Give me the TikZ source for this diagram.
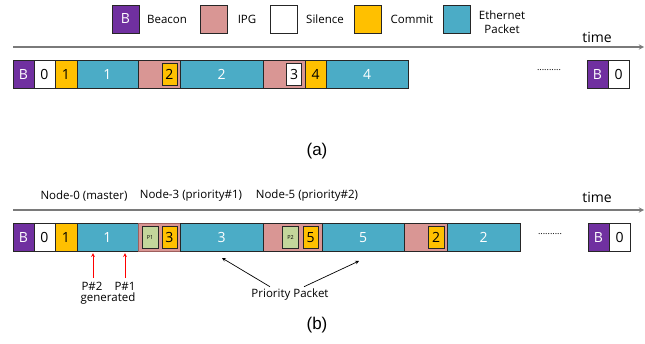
\documentclass[tikz,border=0pt]{standalone}
\usepackage{fontspec}
\setmainfont{Open Sans}
\newfontfamily\capfont{Liberation Sans}
\usetikzlibrary{arrows}
\definecolor{beaconc}{HTML}{7030A0}
\definecolor{ipgc}{HTML}{D99694}
\definecolor{ipgd}{HTML}{9E5F5D}
\definecolor{commitc}{HTML}{FFC000}
\definecolor{etherc}{HTML}{4BACC6}
\definecolor{prioc}{HTML}{C3D69B}
\definecolor{timec}{HTML}{7A7A7A}
\tikzset{
  seg/.style={draw=black!85, line width=0.8pt, minimum height=28, inner sep=0, outer sep=0,
    anchor=west, font=\fontsize{14}{14}\selectfont},
  bcn/.style={seg, fill=beaconc, text=white, minimum width=21},
  sil/.style={seg, fill=white, minimum width=21},
  cmt/.style={seg, fill=commitc, minimum width=22},
  ipg/.style={seg, fill=ipgc},
  eth/.style={seg, fill=etherc, text=white},
  inbox/.style={seg, anchor=center, minimum width=15, minimum height=22},
  key/.style={draw=black!85, line width=0.8pt, minimum width=27, minimum height=28, inner sep=0,
    font=\fontsize{14}{14}\selectfont},
  lbl/.style={font=\fontsize{11.5}{13}\selectfont},
  timeline/.style={draw=timec, line width=1.3pt, -stealth},
  genarrow/.style={draw=red, line width=0.8pt, -stealth},
  ptr/.style={draw=black, line width=0.7pt, -stealth}
}
\begin{document}
\begin{tikzpicture}[x=1pt,y=-1pt]
\useasboundingbox (0,0) rectangle (645,343);

\node[key, fill=beaconc, text=white] (kB) at (125.5,19) {B};
\node[lbl] (kBt) at (167,19) {Beacon};
\node[key, fill=ipgc] (kI) at (214,19) {};
\node[lbl] (kIt) at (247,19) {IPG};
\node[key, fill=white] (kS) at (284,19) {};
\node[lbl] (kSt) at (325,19) {Silence};
\node[key, fill=commitc] (kC) at (368,19) {};
\node[lbl] (kCt) at (412,19) {Commit};
\node[key, fill=etherc] (kE) at (457,19) {};
\node[lbl, align=center, font=\fontsize{11.5}{14}\selectfont] (kEt) at (502,22) {Ethernet\\Packet};

\coordinate (ta0) at (13,47);
\coordinate (ta1) at (644,47);
\draw[timeline] (ta0) -- (ta1);
\node[font=\fontsize{14}{14}\selectfont] (timea) at (597,37) {time};

\node[bcn] (aB) at (13,74.5) {B};
\node[sil] (a0) at (34,74.5) {0};
\node[cmt] (ac1) at (55,74.5) {1};
\node[eth, minimum width=61] (ap1) at (77,74.5) {1};
\node[ipg, minimum width=42] (ag2) at (138,74.5) {};
\node[inbox, fill=commitc] (ac2) at (169.5,74.5) {2};
\node[eth, minimum width=83] (ap2) at (180,74.5) {2};
\node[ipg, minimum width=42] (ag3) at (263,74.5) {};
\node[inbox, fill=white] (as3) at (294,74.5) {3};
\node[cmt, minimum width=21] (ac4) at (305,74.5) {4};
\node[eth, minimum width=82] (ap4) at (326,74.5) {4};
\node[font=\fontsize{9}{9}\selectfont] (adots) at (549,70) {..........};
\node[bcn] (aB2) at (587,74.5) {B};
\node[sil] (a02) at (608,74.5) {0};

\node[font=\capfont\fontsize{17}{17}\selectfont] (capa) at (317,151) {(a)};

\node[lbl] (n0) at (84,196) {Node-0 (master)};
\node[lbl] (n3) at (191,196) {Node-3 (priority\#1)};
\node[lbl] (n5) at (307,196) {Node-5 (priority\#2)};
\coordinate (tb0) at (13,210);
\coordinate (tb1) at (644,210);
\draw[timeline] (tb0) -- (tb1);
\node[font=\fontsize{14}{14}\selectfont] (timeb) at (597,197) {time};

\node[bcn] (bB) at (13,237.5) {B};
\node[sil] (b0) at (34,237.5) {0};
\node[cmt] (bc1) at (55,237.5) {1};
\node[eth, minimum width=61] (bp1) at (77,237.5) {1};
\node[ipg, draw=ipgd, minimum width=42] (bg3) at (138,237.5) {};
\node[inbox, fill=prioc, minimum width=16, font=\fontsize{5.5}{5.5}\selectfont] (bq1) at (150,237.5) {P1};
\node[inbox, fill=commitc] (bc3) at (169.5,237.5) {3};
\node[eth, minimum width=83] (bp3) at (180,237.5) {3};
\node[ipg, minimum width=59] (bg5) at (263,237.5) {};
\node[inbox, fill=prioc, minimum width=16, font=\fontsize{5.5}{5.5}\selectfont] (bq2) at (290.5,237.5) {P2};
\node[inbox, fill=commitc] (bc5) at (310.5,237.5) {5};
\node[eth, minimum width=82] (bp5) at (322,237.5) {5};
\node[ipg, minimum width=43] (bg2) at (404,237.5) {};
\node[inbox, fill=commitc, minimum width=16] (bc2) at (436,237.5) {2};
\node[eth, minimum width=73] (bp2) at (447,237.5) {2};
\node[font=\fontsize{9}{9}\selectfont] (bdots) at (550,234) {..........};
\node[bcn] (bB2) at (588,237.5) {B};
\node[sil] (b02) at (609,237.5) {0};

\node[lbl] (g2) at (92,286) {P\#2};
\node[lbl] (g1) at (125,286) {P\#1};
\node[lbl] (gen) at (108,299) {generated};
\coordinate (hit2) at (93,253);
\coordinate (hit1) at (125,253);
\draw[genarrow] (93,278) -- (hit2);
\draw[genarrow] (125,278) -- (hit1);

\node[lbl] (prio) at (290,295) {Priority Packet};
\coordinate (tip3) at (222,258);
\coordinate (tip5) at (359,261);
\draw[ptr] ([xshift=-20pt,yshift=-1pt]prio.north) -- (tip3);
\draw[ptr] ([xshift=14pt,yshift=-1pt]prio.north) -- (tip5);

\node[font=\capfont\fontsize{17}{17}\selectfont] (capb) at (317,325) {(b)};
\end{tikzpicture}
\end{document}
